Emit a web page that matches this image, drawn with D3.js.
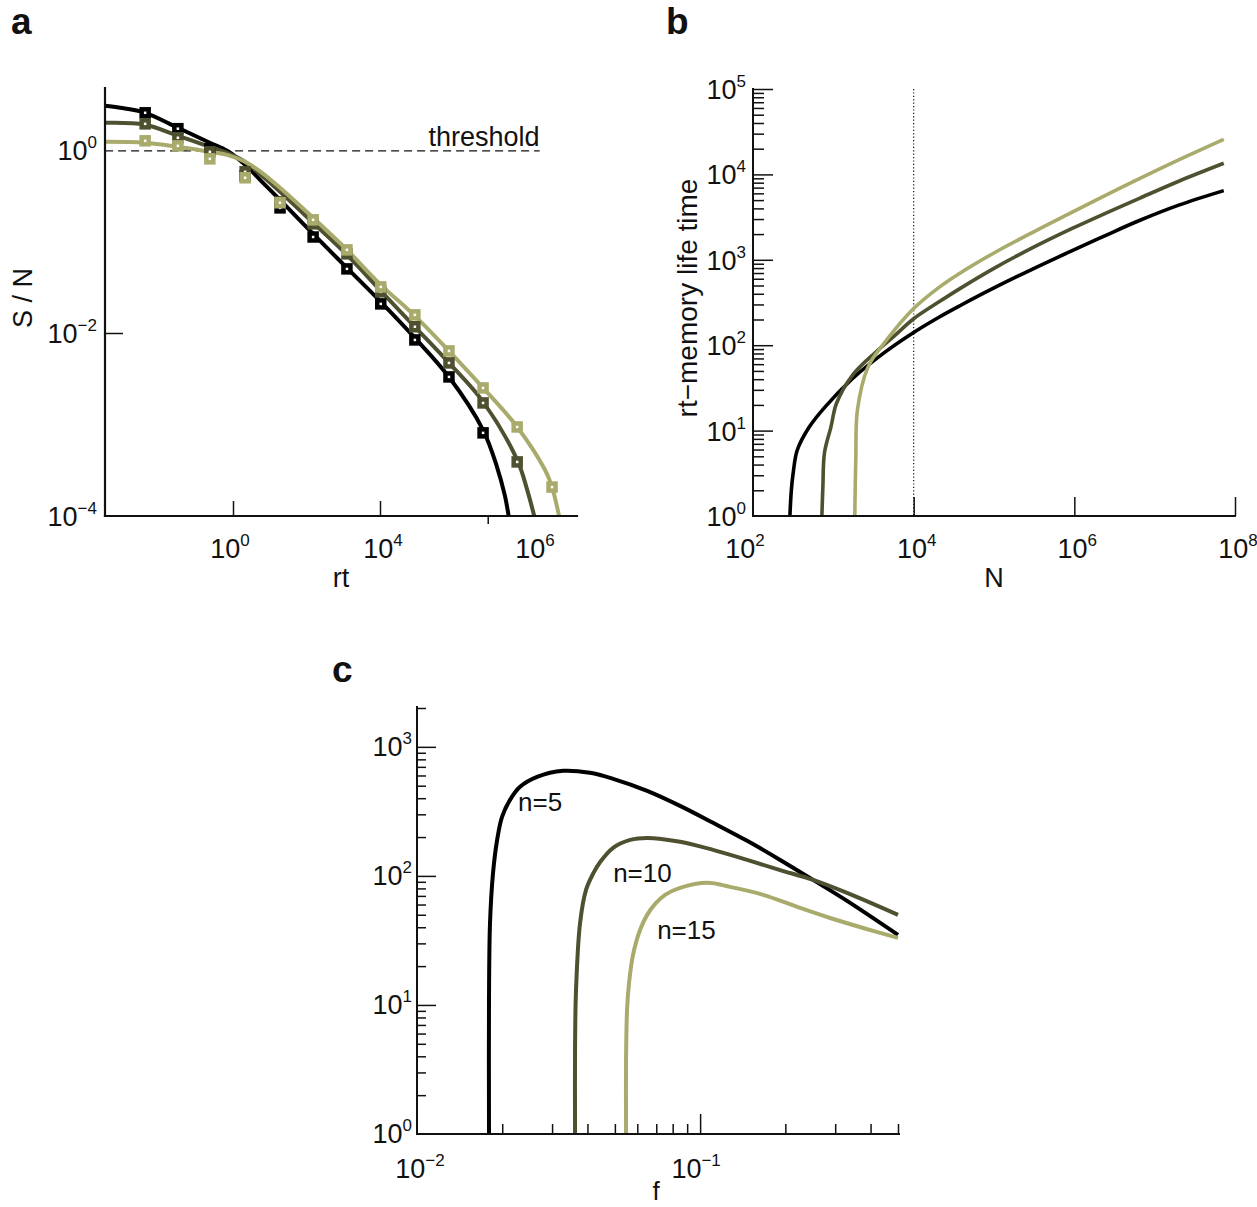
<!DOCTYPE html>
<html><head><meta charset="utf-8">
<script src="https://cdnjs.cloudflare.com/ajax/libs/d3/7.8.5/d3.min.js"></script>
<style>
body{margin:0;background:#fff}
svg{display:block}
text{font-family:"Liberation Sans",Arial,Helvetica,sans-serif;fill:#111}
</style>
</head><body>
<svg id="chart" width="1257" height="1207"></svg>
<script>
// ---------- Panel a : S/N vs rt (x in log10 rt) ----------
const aTickExp = [0, 4, 6];
const aThreshold = 0.98;
const aMarkX = [-2.39, -1.50, -0.63, 0.33, 1.28, 2.18, 3.10, 4.01, 4.45, 4.89, 5.33, 5.77, 6.22];
const aMarkBlack = [2.55, 1.71, 1.03, 0.522, 0.233, 0.112, 0.0502, 0.0208, 0.0084, 0.00331, 0.00081, null, null];
const aMarkDark  = [1.93, 1.36, 0.955, 0.578, 0.271, 0.156, 0.0733, 0.0282, 0.0117, 0.00471, 0.00172, 0.00039, null];
const aMarkLight = [1.26, 1.11, 0.80, 0.497, 0.265, 0.1725, 0.081, 0.0319, 0.01578, 0.00637, 0.00251, 0.00094, 0.000207];
const aBlackX = [-3.48, -3.07, -2.39, -1.50, -0.63, -0.16, 0.33, 0.79, 1.28, 2.18, 3.10, 4.01, 4.45, 4.89, 5.33, 5.51, 5.61, 5.66];
const aBlackY = [3.04, 2.89, 2.55, 1.75, 1.20, 0.98, 0.689, 0.449, 0.285, 0.121, 0.0515, 0.0219, 0.00883, 0.0033, 0.00087, 0.000343, 0.000169, 0.0001];
const aDarkX = [-3.48, -2.39, -1.50, -0.63, -0.16, 0.33, 0.79, 1.28, 2.18, 3.10, 4.01, 4.45, 4.89, 5.33, 5.77, 5.90, 5.99];
const aDarkY = [1.98, 1.89, 1.43, 1.084, 0.932, 0.743, 0.522, 0.349, 0.160, 0.0715, 0.0289, 0.01167, 0.00471, 0.00177, 0.00041, 0.000192, 0.0001];
const aLightX = [-3.48, -2.39, -1.50, -0.63, -0.16, 0.33, 0.79, 1.28, 2.18, 3.10, 4.01, 4.45, 4.90, 5.33, 5.77, 6.13, 6.22, 6.31];
const aLightY = [1.23, 1.20, 1.084, 0.956, 0.886, 0.743, 0.563, 0.386, 0.1815, 0.081, 0.0336, 0.01538, 0.00622, 0.00251, 0.00094, 0.000318, 0.000207, 0.0001];
const aYTickExp = [0, -2, -4];

// ---------- Panel b : rt-memory life time vs N ----------
const bXTickExp = [2, 4, 6, 8];
const bYTickExp = [0, 1, 2, 3, 4, 5];
const bBlackN = [288, 300, 316, 355, 501, 776, 1738, 4266, 1e4, 20900, 37150, 1e5, 316200, 955000, 2512000, 6457000, 19950000, 72440000];
const bBlackT = [1, 2.0, 3.16, 5.89, 11.0, 18.6, 40.7, 81.3, 141, 214, 288, 468, 794, 1288, 1950, 2884, 4365, 6457];
const bDarkN = [720, 741, 776, 933, 1096, 1738, 3388, 5623, 1e4, 20900, 37150, 1e5, 316200, 955000, 2512000, 6457000, 19950000, 72440000];
const bDarkT = [1, 2.19, 5.50, 11.0, 20.9, 44.7, 83.2, 126, 204, 324, 457, 794, 1413, 2344, 3548, 5248, 8318, 13490];
const bLightN = [1849, 1905, 1995, 2692, 4266, 1e4, 20900, 37150, 1e5, 316200, 955000, 2512000, 6457000, 19950000, 72440000];
const bLightT = [1, 4.90, 17.4, 55.0, 105, 269, 479, 692, 1202, 2138, 3631, 5754, 8913, 14790, 25700];
const bMarkerN = 1e4;

// ---------- Panel c : life time vs f ----------
const cXTickExp = [-2, -1];
const cYTickExp = [0, 1, 2, 3];
const cBlackF = [0.01796, 0.01796, 0.01811, 0.01856, 0.01919, 0.01997, 0.02131, 0.02312, 0.02655, 0.03281, 0.04084, 0.04929, 0.06501, 0.08495, 0.1111, 0.1466, 0.1918, 0.2506, 0.3304, 0.5];
const cBlackV = [1, 10.9, 43.2, 105.5, 190, 287, 388, 490, 585, 652, 629, 565, 456, 349, 258, 187, 133, 93.1, 64.0, 34.9];
const cDarkF = [0.03616, 0.03616, 0.03645, 0.03767, 0.03954, 0.04188, 0.04436, 0.04929, 0.05662, 0.06501, 0.08495, 0.1111, 0.1466, 0.1918, 0.2506, 0.3304, 0.5];
const cDarkV = [1, 4.48, 13.1, 43.2, 77.9, 104, 128, 165, 190, 197, 184, 159, 133, 111, 93.1, 73.8, 49.9];
const cLightF = [0.05475, 0.05475, 0.05520, 0.05610, 0.05794, 0.06134, 0.06501, 0.06937, 0.07519, 0.08495, 0.1059, 0.1277, 0.1671, 0.2203, 0.2879, 0.3766, 0.5];
const cLightV = [1, 3.75, 9.15, 14.8, 24.4, 38.1, 49.9, 60.7, 71.3, 80.7, 88.3, 82.2, 71.3, 57.5, 47.2, 39.5, 33.1];
const cLabels = ["n=5", "n=10", "n=15"];
const cLabelF = [0.02275, 0.0493, 0.0705];
const cLabelV = [319, 89.8, 32.5];

const COLORS = ["#000000", "#4f5030", "#a9ab6c"];

// ---------- drawing ----------
const svg = d3.select("#chart");
const INK = "#111";

function expStr(e){ return e < 0 ? "\u2212" + (-e) : String(e); }
function expLabel(x, y, e, anchor){
  const t = svg.append("text").attr("x", x).attr("y", y).attr("text-anchor", anchor).attr("font-size", 27);
  t.append("tspan").text("10");
  t.append("tspan").attr("dy", -12).attr("font-size", 17).text(expStr(e));
}
function ticks(axisFn, scale, values, size, transform){
  const ax = axisFn(scale).tickValues(values).tickSize(size).tickSizeOuter(0).tickFormat("");
  const g = svg.append("g").attr("transform", transform).call(ax);
  g.select(".domain").remove();
  g.selectAll("line").attr("stroke", INK).attr("stroke-width", 1.5);
}
function axisLine(x1, y1, x2, y2, w){
  svg.append("line").attr("x1", x1).attr("y1", y1).attr("x2", x2).attr("y2", y2)
    .attr("stroke", INK).attr("stroke-width", w).attr("stroke-linecap", "square");
}
function curve(xs, ys, sx, sy, color, w){
  const pts = xs.map((x, i) => [x, ys[i]]);
  const line = d3.line().x(d => sx(d[0])).y(d => sy(d[1])).curve(d3.curveCatmullRom.alpha(0.5));
  svg.append("path").attr("d", line(pts)).attr("fill", "none").attr("stroke", color)
    .attr("stroke-width", w).attr("stroke-linejoin", "round");
}
function minorLog(lo, hi){
  const out = [];
  for (let e = lo; e < hi; e++) for (let m = 2; m <= 9; m++) out.push(m * Math.pow(10, e));
  return out;
}
function panelLetter(x, y, s){
  svg.append("text").attr("x", x).attr("y", y).attr("font-size", 37).attr("font-weight", "bold").text(s);
}

// ===== Panel a =====
const aX = d3.scaleLinear().domain(aTickExp).range([233, 380, 535]);
const aY = d3.scaleLog().domain([1e-4, 1]).range([516, 150]);
panelLetter(11, 34, "a");
svg.append("line").attr("x1", aX(-3.48)).attr("x2", aX(6.06)).attr("y1", aY(aThreshold)).attr("y2", aY(aThreshold))
  .attr("stroke", INK).attr("stroke-width", 1.3).attr("stroke-dasharray", "8,5");
svg.append("text").attr("x", 484).attr("y", 146).attr("text-anchor", "middle").attr("font-size", 27).text("threshold");
curve(aBlackX, aBlackY, aX, aY, COLORS[0], 4);
curve(aDarkX, aDarkY, aX, aY, COLORS[1], 4);
curve(aLightX, aLightY, aX, aY, COLORS[2], 4);
[aMarkBlack, aMarkDark, aMarkLight].forEach((vals, k) => {
  const d = aMarkX.map((x, i) => [x, vals[i]]).filter(p => p[1] != null);
  svg.append("g").selectAll("rect").data(d).join("rect")
    .attr("x", p => aX(p[0]) - 3.5).attr("y", p => aY(p[1]) - 3.5)
    .attr("width", 7).attr("height", 7)
    .attr("fill", "#fff").attr("stroke", COLORS[k]).attr("stroke-width", 4.5);
});
axisLine(105, 88, 105, 516, 2.2);
axisLine(105, 516, 577, 516, 2.2);
ticks(d3.axisTop, aX, [0, 4], 15, "translate(0,516)");
ticks(d3.axisBottom, aX, [5.39], 8, "translate(0,516)");
ticks(d3.axisRight, aY, [1e-2], 18, "translate(105,0)");
aYTickExp.forEach(e => expLabel(97, aY(Math.pow(10, e)) + 10, e, "end"));
expLabel(aX(0) - 3, 558, 0, "middle");
expLabel(aX(4) + 3, 558, 4, "middle");
expLabel(aX(6), 558, 6, "middle");
svg.append("text").attr("x", 341).attr("y", 587).attr("text-anchor", "middle").attr("font-size", 27).text("rt");
svg.append("text").attr("transform", "translate(32,298) rotate(-90)").attr("text-anchor", "middle").attr("font-size", 27).text("S / N");

// ===== Panel b =====
const bX = d3.scaleLog().domain([1e2, 1e8]).range([753, 1235]);
const bY = d3.scaleLog().domain([1, 1e5]).range([516, 89]);
panelLetter(666, 34, "b");
svg.append("line").attr("x1", bX(bMarkerN)).attr("x2", bX(bMarkerN)).attr("y1", bY(1e5)).attr("y2", bY(1))
  .attr("stroke", INK).attr("stroke-width", 1.2).attr("stroke-dasharray", "1.2,2.2");
curve(bBlackN, bBlackT, bX, bY, COLORS[0], 3.6);
curve(bDarkN, bDarkT, bX, bY, COLORS[1], 3.6);
curve(bLightN, bLightT, bX, bY, COLORS[2], 3.6);
axisLine(753, 89, 753, 516, 2);
axisLine(753, 516, 1235, 516, 2);
ticks(d3.axisTop, bX, [1e4, 1e6, 1e8], 19, "translate(0,516)");
ticks(d3.axisRight, bY, [10, 100, 1000, 1e4, 1e5], 20, "translate(753,0)");
ticks(d3.axisRight, bY, minorLog(0, 5), 11, "translate(753,0)");
bYTickExp.forEach(e => expLabel(746, bY(Math.pow(10, e)) + 10, e, "end"));
bXTickExp.forEach(e => expLabel(bX(Math.pow(10, e)) + (e === 2 ? -8 : 3), 558, e, "middle"));
svg.append("text").attr("x", 994).attr("y", 587).attr("text-anchor", "middle").attr("font-size", 27).text("N");
svg.append("text").attr("transform", "translate(697,298) rotate(-90)").attr("text-anchor", "middle").attr("font-size", 28).text("rt\u2212memory life time");

// ===== Panel c =====
const cX = d3.scaleLog().domain([0.01, 0.5]).range([417, 898]);
const cY = d3.scaleLog().domain([1, 2000]).range([1134, 708]);
panelLetter(332, 682, "c");
curve(cBlackF, cBlackV, cX, cY, COLORS[0], 4);
curve(cDarkF, cDarkV, cX, cY, COLORS[1], 4);
curve(cLightF, cLightV, cX, cY, COLORS[2], 4);
axisLine(417, 707, 417, 1134, 2);
axisLine(417, 1134, 899, 1134, 2);
ticks(d3.axisTop, cX, [0.1], 20, "translate(0,1134)");
ticks(d3.axisTop, cX, [0.02,0.03,0.04,0.05,0.06,0.07,0.08,0.09,0.2,0.3,0.4,0.5], 10, "translate(0,1134)");
ticks(d3.axisRight, cY, [10, 100, 1000], 19, "translate(417,0)");
ticks(d3.axisRight, cY, minorLog(0, 3).concat([2000]), 9, "translate(417,0)");
cYTickExp.forEach(e => expLabel(412, cY(Math.pow(10, e)) + 9, e, "end"));
cXTickExp.forEach(e => expLabel(cX(Math.pow(10, e)) + (e === -2 ? 3 : -4), 1178, e, "middle"));
svg.append("text").attr("x", 656).attr("y", 1200).attr("text-anchor", "middle").attr("font-size", 26).text("f");
cLabels.forEach((s, i) => {
  svg.append("text").attr("x", cX(cLabelF[i])).attr("y", cY(cLabelV[i])).attr("font-size", 26).text(s);
});
</script>
</body></html>
